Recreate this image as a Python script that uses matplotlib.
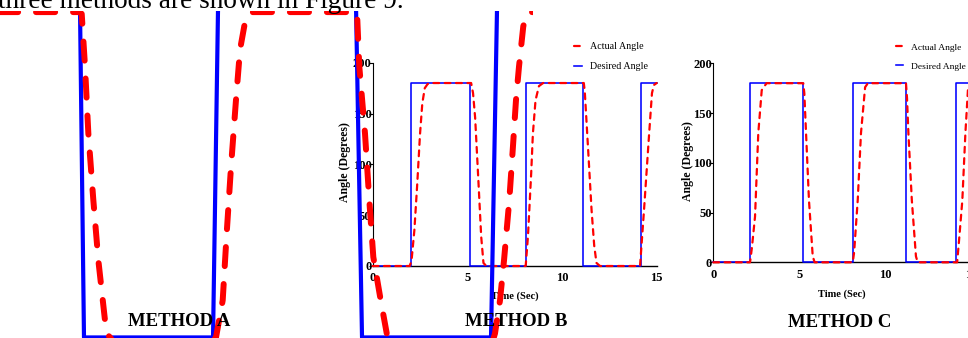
import matplotlib
matplotlib.use('Agg')
import matplotlib.pyplot as plt

# ---------------- data ----------------
xticks = [0, 5, 10, 15]
yticks = [0, 50, 100, 150, 200]
series_labels = ["Actual Angle", "Desired Angle"]
panel_titles = ["METHOD A", "METHOD B", "METHOD C"]
body_text = "three methods are shown in Figure 9."

# Method A (shown heavily enlarged / cropped)
a_des_t = [3.0, 5.108, 5.194, 7.981, 8.089, 11.07, 11.199, 13.985, 14.115, 16.0]
a_des_v = [180, 180, 0, 0, 180, 180, 0, 0, 180, 180]
a_act_t = [3.0, 5.10, 5.145, 5.216, 5.288, 5.396, 5.504, 5.648, 5.719, 5.80,
           8.00, 8.045, 8.19, 8.276, 8.369, 8.477, 8.564, 8.693, 8.76, 8.85,
           11.05, 11.091, 11.14, 11.263, 11.356, 11.443, 11.603, 11.733, 11.85,
           14.03, 14.071, 14.179, 14.266, 14.38, 14.454, 14.525, 14.59, 14.682, 14.762, 14.85, 16.0]
a_act_v = [178, 178, 177, 148.3, 111.7, 75.1, 42.2, 9.3, 1.1, -1.3,
           -1.3, 0, 20.3, 57, 93.2, 130, 157.4, 175.5, 177.5, 178,
           178, 177.5, 148.3, 111.7, 75.1, 44, 20.3, 2.2, -1.3,
           -1.3, 2.2, 20.3, 42.2, 75.1, 102.6, 130, 148.3, 170.2, 177.5, 178, 178]

# Method B
b_des_t = [0, 2.02, 2.02, 5.14, 5.14, 8.08, 8.08, 11.13, 11.13, 14.15, 14.15, 15]
b_des_v = [0, 0, 180, 180, 0, 0, 180, 180, 0, 0, 180, 180]
b_act_t = [0, 1.95, 2.05, 2.2, 2.35, 2.5, 2.62, 2.75, 2.9, 3.05,
           5.2, 5.3, 5.41, 5.59, 5.73, 5.85, 6.0,
           8.08, 8.2, 8.37, 8.46, 8.6, 8.78, 9.0,
           11.15, 11.2, 11.38, 11.56, 11.7, 11.82, 12.0,
           14.12, 14.33, 14.6, 14.75, 14.85, 15]
b_act_v = [0, 0, 5, 35, 80, 130, 160, 175, 179, 180,
           180, 170, 146, 81, 29, 3, 0,
           0, 29, 91, 130, 163, 177, 180,
           180, 172, 114, 55, 20, 3, 0,
           0, 55, 130, 170, 178, 180]

# Method C
c_des_t = [0, 2.14, 2.14, 5.24, 5.24, 8.12, 8.12, 11.22, 11.22, 14.12, 14.12, 15]
c_des_v = [0, 0, 180, 180, 0, 0, 180, 180, 0, 0, 180, 180]
c_act_t = [0, 2.14, 2.25, 2.43, 2.62, 2.82, 3.1,
           5.24, 5.3, 5.4, 5.57, 5.79, 5.9,
           8.12, 8.2, 8.41, 8.6, 8.84, 9.0,
           11.22, 11.28, 11.36, 11.56, 11.8, 11.9,
           14.2, 14.3, 14.5, 14.68, 14.84, 15]
c_act_v = [0, 0, 15, 46, 130, 173, 180,
           180, 170, 130, 62.5, 6, 0,
           0, 10, 62.5, 130, 176, 180,
           180, 165, 130, 62.5, 6, 0,
           0, 20, 62, 130, 177, 180]

# ---------------- figure ----------------
W, H = 968, 338
plt.rcParams['font.family'] = ['Liberation Serif', 'DejaVu Serif']
plt.rcParams['font.weight'] = 'bold'
plt.rcParams['axes.labelweight'] = 'bold'
fig = plt.figure(figsize=(W / 100, H / 100), dpi=100)

RED = '#FF0000'
BLUE = '#0000FF'


def rect(l, r, t, b):
    return [l / W, 1 - b / H, (r - l) / W, (b - t) / H]


def small_panel(pos, ylab_xy, xlab_xy, leg_xy, leg_size, des_t, des_v, act_t, act_v):
    ax = fig.add_axes(pos)
    ln_d, = ax.plot(des_t, des_v, color=BLUE, lw=1.15, clip_on=False, zorder=3)
    ln_a, = ax.plot(act_t, act_v, color=RED, lw=1.6, dashes=(2.6, 2.5),
                    dash_capstyle='round', clip_on=False, zorder=4)
    ax.set_xlim(0, 15)
    ax.set_ylim(0, 200)
    ax.set_xticks(xticks)
    ax.set_yticks(yticks)
    ax.spines[['top', 'right']].set_visible(False)
    ax.spines['left'].set_linewidth(0.8)
    ax.spines['bottom'].set_linewidth(1.0)
    ax.tick_params(axis='y', direction='out', length=3, width=0.8, pad=-2, labelsize=9)
    ax.tick_params(axis='x', direction='out', length=0, pad=4.5, labelsize=9)
    ax.set_ylabel("Angle (Degrees)", fontsize=8.5, va='center')
    ax.yaxis.set_label_coords(*ylab_xy)
    ax.set_xlabel("Time (Sec)", fontsize=7.5, va='center')
    ax.xaxis.set_label_coords(*xlab_xy)
    ax.legend([ln_a, ln_d], series_labels, loc='upper left',
              bbox_to_anchor=(leg_xy[0] / W, 1 - leg_xy[1] / H),
              bbox_transform=fig.transFigure, frameon=False,
              prop={'family': 'Liberation Serif', 'weight': 'normal', 'size': leg_size},
              handlelength=0.75, handletextpad=0.8, labelspacing=1.1,
              borderpad=0, borderaxespad=0)
    ax.patch.set_alpha(0)
    return ax


axB = small_panel(rect(372.7, 656.7, 62.7, 266.0), (-0.0975, 0.512), (0.501, -0.150),
                  (574, 42), 7.2, b_des_t, b_des_v, b_act_t, b_act_v)
axC = small_panel(rect(713.3, 970.9, 63.3, 262.3), (-0.098, 0.509), (0.4996, -0.159),
                  (896, 43), 6.8, c_des_t, c_des_v, c_act_t, c_act_v)

# enlarged, cropped Method A plot
axA = fig.add_axes(rect(0, 533, 11, 338))
axA.plot(a_des_t, a_des_v, color=BLUE, lw=3.0, zorder=3)
axA.plot(a_act_t, a_act_v, color=RED, lw=4.3, dashes=(3.2, 3.0),
         dash_capstyle='round', zorder=4)
axA.set_xlim(3.380, 3.380 + 533 / 46.3)
axA.set_ylim(-0.3, 178.6)
axA.axis('off')

# texts
fig.text(-2 / W, 1 - 8.5 / H, body_text, fontsize=19.6, weight='normal',
         ha='left', va='baseline', family=['Liberation Serif', 'DejaVu Serif'])
for title, cx, cy in zip(panel_titles, [179, 516, 840], [321.5, 321, 322.5]):
    fig.text(cx / W, 1 - cy / H, title, fontsize=13.5, weight='bold',
             ha='center', va='center')

fig.savefig('out.png', dpi=100)
